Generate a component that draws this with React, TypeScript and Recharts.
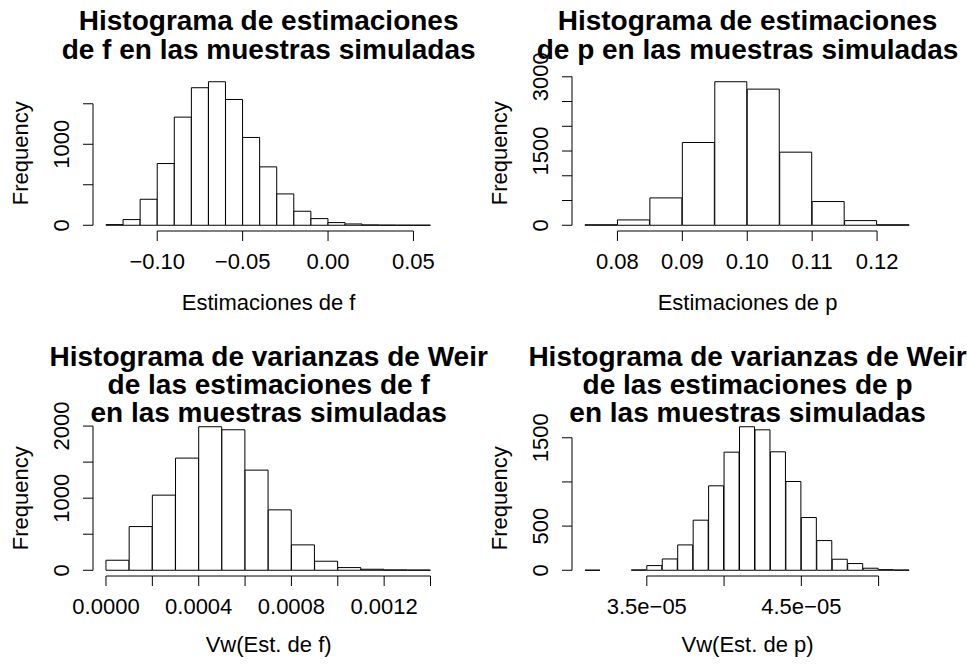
import React from "react";
import { ComposedChart, Bar, XAxis, YAxis, ReferenceLine } from "recharts";

// Bin edges and counts for the four histograms
const fBreaks = [-0.13, -0.12, -0.11, -0.1, -0.09, -0.08, -0.07, -0.06, -0.05, -0.04, -0.03, -0.02, -0.01, 0, 0.01, 0.02, 0.03, 0.04, 0.05, 0.06];
const fCounts = [8, 70, 321, 762, 1335, 1698, 1772, 1553, 1084, 721, 387, 173, 82, 33, 16, 4, 2, 1, 1];

const pBreaks = [0.075, 0.08, 0.085, 0.09, 0.095, 0.1, 0.105, 0.11, 0.115, 0.12, 0.125];
const pCounts = [10, 108, 553, 1672, 2900, 2751, 1477, 479, 94, 10];

const vfBreaks = [0, 0.0001, 0.0002, 0.0003, 0.0004, 0.0005, 0.0006, 0.0007, 0.0008, 0.0009, 0.001, 0.0011, 0.0012, 0.0013, 0.0014];
const vfCounts = [139, 606, 1042, 1556, 1991, 1949, 1389, 838, 352, 125, 37, 14, 5, 3];

const vpBreaks = [3.1e-5, 3.2e-5, 3.3e-5, 3.4e-5, 3.5e-5, 3.6e-5, 3.7e-5, 3.8e-5, 3.9e-5, 4.0e-5, 4.1e-5, 4.2e-5, 4.3e-5, 4.4e-5, 4.5e-5, 4.6e-5, 4.7e-5, 4.8e-5, 4.9e-5, 5.0e-5, 5.1e-5, 5.2e-5];
const vpCounts = [1, 0, 0, 4, 53, 128, 287, 567, 956, 1337, 1625, 1590, 1341, 1005, 597, 336, 125, 76, 23, 7, 3];

// Axis ticks; an empty label means the tick is drawn without text
const fXTicks = [-0.1, -0.05, 0, 0.05];
const fXLabels = ["\u22120.10", "\u22120.05", "0.00", "0.05"];
const fYTicks = [0, 500, 1000, 1500];
const fYLabels = ["0", "", "1000", ""];

const pXTicks = [0.08, 0.09, 0.1, 0.11, 0.12];
const pXLabels = ["0.08", "0.09", "0.10", "0.11", "0.12"];
const pYTicks = [0, 500, 1000, 1500, 2000, 2500, 3000];
const pYLabels = ["0", "", "", "1500", "", "", "3000"];

const vfXTicks = [0, 0.0002, 0.0004, 0.0006, 0.0008, 0.001, 0.0012, 0.0014];
const vfXLabels = ["0.0000", "", "0.0004", "", "0.0008", "", "0.0012", ""];
const vfYTicks = [0, 500, 1000, 1500, 2000];
const vfYLabels = ["0", "", "1000", "", "2000"];

const vpXTicks = [3.5e-5, 4.0e-5, 4.5e-5, 5.0e-5];
const vpXLabels = ["3.5e\u221205", "", "4.5e\u221205", ""];
const vpYTicks = [0, 500, 1000, 1500];
const vpYLabels = ["0", "500", "", "1500"];

const FONT = '"Liberation Sans", Arial, Helvetica, sans-serif';
const LABEL_SIZE = 22;
const TITLE_SIZE = 28;

const PLOT_W = 350.5;
const PLOT_H = 155;
const YAXIS_W = 60;
const XAXIS_H = 60;
const PAD = 10;
const TOP_PAD = 40;

const COL_X = [93.4, 572.3];
const ROW_Y = [75.7, 420.8];

const XTick = (props: any) => {
  const { x, y, index, labels } = props;
  const text = labels[index];
  if (!text) return null;
  return (
    <text x={x} y={y + 25.6} textAnchor="middle" fontFamily={FONT} fontSize={LABEL_SIZE} fill="#000">
      {text}
    </text>
  );
};

const YTick = (props: any) => {
  const { x, y, index, labels } = props;
  const text = labels[index];
  if (!text) return null;
  const tx = x - 12;
  return (
    <text x={tx} y={y} transform={`rotate(-90 ${tx} ${y})`} textAnchor="middle" fontFamily={FONT} fontSize={LABEL_SIZE} fill="#000">
      {text}
    </text>
  );
};

interface HistProps {
  breaks: number[];
  counts: number[];
  xTicks: number[];
  xLabels: string[];
  yTicks: number[];
  yLabels: string[];
  left: number;
  top: number;
}

function Histogram({ breaks, counts, xTicks, xLabels, yTicks, yLabels, left, top }: HistProps) {
  const data = counts.map((c, i) => ({ mid: (breaks[i] + breaks[i + 1]) / 2, count: c }));
  const lo = breaks[0];
  const hi = breaks[breaks.length - 1];
  const xPad = (hi - lo) * 0.04;
  const yMax = Math.max(...counts);
  const xDomain: [number, number] = [lo - xPad, hi + xPad];
  const yDomain: [number, number] = [-0.04 * yMax, 1.04 * yMax];

  return (
    <div style={{ position: "absolute", left: left - YAXIS_W - PAD, top: top - TOP_PAD }}>
      <ComposedChart
        width={PLOT_W + YAXIS_W + 2 * PAD}
        height={PLOT_H + XAXIS_H + PAD + TOP_PAD}
        data={data}
        margin={{ top: TOP_PAD, right: PAD, bottom: PAD, left: PAD }}
        barCategoryGap={0}
        barGap={0}
      >
        <XAxis
          type="number"
          dataKey="mid"
          domain={xDomain}
          allowDataOverflow
          ticks={xTicks}
          interval={0}
          height={XAXIS_H}
          axisLine={false}
          tickLine={{ stroke: "#000", strokeWidth: 1 }}
          tickSize={10}
          tickMargin={2}
          tick={<XTick labels={xLabels} />}
        />
        <YAxis
          type="number"
          domain={yDomain}
          allowDataOverflow
          ticks={yTicks}
          interval={0}
          width={YAXIS_W}
          axisLine={false}
          tickLine={{ stroke: "#000", strokeWidth: 1 }}
          tickSize={10}
          tickMargin={2}
          tick={<YTick labels={yLabels} />}
        />
        <ReferenceLine
          segment={[{ x: xTicks[0], y: yDomain[0] }, { x: xTicks[xTicks.length - 1], y: yDomain[0] }]}
          stroke="#000"
          strokeWidth={1}
          ifOverflow="visible"
        />
        <ReferenceLine
          segment={[{ x: xDomain[0], y: yTicks[0] }, { x: xDomain[0], y: yTicks[yTicks.length - 1] }]}
          stroke="#000"
          strokeWidth={1}
          ifOverflow="visible"
        />
        <Bar dataKey="count" fill="#fff" stroke="#000" strokeWidth={1} isAnimationActive={false} />
      </ComposedChart>
    </div>
  );
}

const titles = [
  ["Histograma de estimaciones", "de f en las muestras simuladas"],
  ["Histograma de estimaciones", "de p en las muestras simuladas"],
  ["Histograma de varianzas de Weir", "de las estimaciones de f", "en las muestras simuladas"],
  ["Histograma de varianzas de Weir", "de las estimaciones de p", "en las muestras simuladas"],
];
const xTitles = ["Estimaciones de f", "Estimaciones de p", "Vw(Est. de f)", "Vw(Est. de p)"];
const titleBaselines = [
  [30, 59],
  [30, 59],
  [366, 394, 422],
  [366, 394, 422],
];
const xTitleOffsets = [79, 79, 76, 76];

export default function App() {
  const panels = [
    { breaks: fBreaks, counts: fCounts, xTicks: fXTicks, xLabels: fXLabels, yTicks: fYTicks, yLabels: fYLabels },
    { breaks: pBreaks, counts: pCounts, xTicks: pXTicks, xLabels: pXLabels, yTicks: pYTicks, yLabels: pYLabels },
    { breaks: vfBreaks, counts: vfCounts, xTicks: vfXTicks, xLabels: vfXLabels, yTicks: vfYTicks, yLabels: vfYLabels },
    { breaks: vpBreaks, counts: vpCounts, xTicks: vpXTicks, xLabels: vpXLabels, yTicks: vpYTicks, yLabels: vpYLabels },
  ];

  return (
    <div style={{ position: "absolute", left: 0, top: 0, width: 967, height: 664, background: "#fff", overflow: "hidden" }}>
      {panels.map((p, i) => (
        <Histogram key={i} {...p} left={COL_X[i % 2]} top={ROW_Y[Math.floor(i / 2)]} />
      ))}
      <svg width={967} height={664} style={{ position: "absolute", left: 0, top: 0, pointerEvents: "none" }}>
        {panels.map((_, i) => {
          const left = COL_X[i % 2];
          const top = ROW_Y[Math.floor(i / 2)];
          const cx = left + PLOT_W / 2;
          const cy = top + PLOT_H / 2;
          const fx = left - 65;
          return (
            <g key={i} fontFamily={FONT} fill="#000">
              {titles[i].map((line, j) => (
                <text key={j} x={cx} y={titleBaselines[i][j]} textAnchor="middle" fontSize={TITLE_SIZE} fontWeight="bold">
                  {line}
                </text>
              ))}
              <text x={cx} y={top + PLOT_H + xTitleOffsets[i]} textAnchor="middle" fontSize={LABEL_SIZE}>
                {xTitles[i]}
              </text>
              <text x={fx} y={cy} transform={`rotate(-90 ${fx} ${cy})`} textAnchor="middle" fontSize={LABEL_SIZE}>
                Frequency
              </text>
            </g>
          );
        })}
      </svg>
    </div>
  );
}
